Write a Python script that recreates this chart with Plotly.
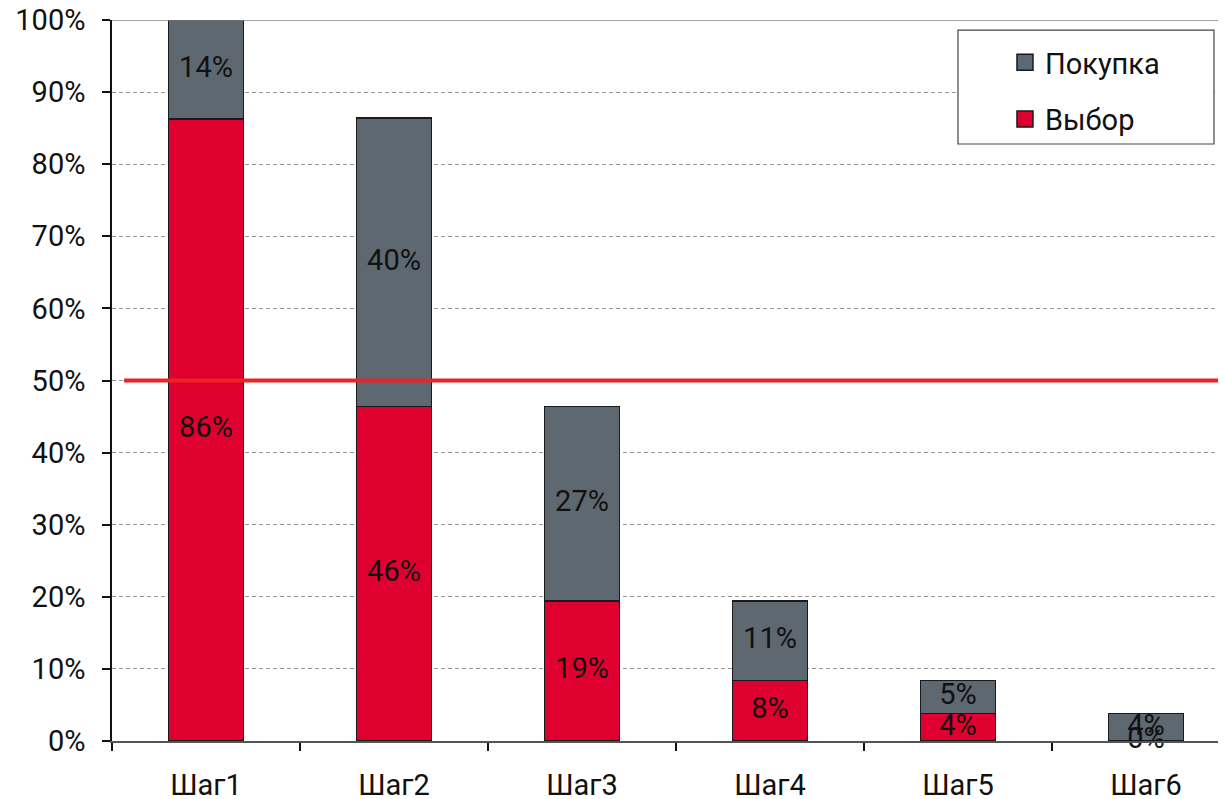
import plotly.graph_objects as go

categories = ["Шаг1", "Шаг2", "Шаг3", "Шаг4", "Шаг5", "Шаг6"]
vybor = [86.3, 46.4, 19.4, 8.4, 3.8, 0.0]
pokupka = [13.7, 40.0, 27.0, 11.0, 4.6, 3.8]
threshold = 50
y_ticks = [0, 10, 20, 30, 40, 50, 60, 70, 80, 90, 100]
y_tick_labels = [f"{t}%" for t in y_ticks]

RED = "#E00030"
GRAY = "#5E6870"
EDGE = "#1a1a1a"
FONT = "Roboto"
FS = 29

fig = go.Figure()
fig.add_trace(go.Bar(x=categories, y=vybor, name="Выбор", showlegend=False,
                     marker=dict(color=RED, line=dict(color=EDGE, width=1.5)),
                     width=0.4, hoverinfo="skip"))
fig.add_trace(go.Bar(x=categories, y=pokupka, name="Покупка", showlegend=False,
                     marker=dict(color=GRAY, line=dict(color=EDGE, width=1.5)),
                     width=0.4, hoverinfo="skip"))

# labels centered in each segment
fig.add_trace(go.Scatter(x=categories, y=[v / 2 for v in vybor],
                         text=[f"{v:.0f}%" for v in vybor], mode="text",
                         textfont=dict(family=FONT, size=FS, color="#111"),
                         showlegend=False, cliponaxis=False, hoverinfo="skip"))
fig.add_trace(go.Scatter(x=categories, y=[v + p / 2 for v, p in zip(vybor, pokupka)],
                         text=[f"{p:.0f}%" for p in pokupka], mode="text",
                         textfont=dict(family=FONT, size=FS, color="#111"),
                         showlegend=False, cliponaxis=False, hoverinfo="skip"))

# legend entries (square keys)
for name, col, rank in [("Покупка", GRAY, 1), ("Выбор", RED, 2)]:
    fig.add_trace(go.Scatter(x=[None], y=[None], mode="markers", name=name,
                             legendgroup=name, legendrank=rank,
                             marker=dict(symbol="square", size=16, color=col,
                                         line=dict(color=EDGE, width=1.5)),
                             hoverinfo="skip"))

fig.add_shape(type="line", xref="paper", yref="y", x0=0, x1=1, y0=100, y1=100,
              line=dict(color="#888888", width=1.5))
fig.add_shape(type="line", xref="paper", yref="y", x0=0.0108, x1=1, y0=threshold, y1=threshold,
              line=dict(color="#EE2224", width=4))
# legend frame
fig.add_shape(type="rect", xref="paper", yref="paper", x0=0.7594, x1=0.9892, y0=0.828, y1=0.986,
              line=dict(color="#444444", width=1.2), fillcolor="white", layer="above")

fig.update_layout(
    width=1218, height=791,
    barmode="stack",
    paper_bgcolor="white", plot_bgcolor="white",
    margin=dict(l=104, r=0, t=12, b=58, autoexpand=False),
    font=dict(family=FONT, size=FS, color="#111"),
    showlegend=True,
    legend=dict(x=0.8016, y=0.9764, xanchor="left", yanchor="top",
                bgcolor="rgba(0,0,0,0)", borderwidth=0,
                traceorder="grouped", tracegroupgap=16,
                font=dict(family=FONT, size=FS, color="#111")),
    xaxis=dict(type="category", range=[-0.5, 5.4255], tickson="boundaries",
               ticks="outside", ticklen=8, tickcolor="#111", tickwidth=1.5,
               showline=True, linecolor="#555", linewidth=1.5,
               showgrid=False, ticklabelstandoff=17, automargin=False,
               tickfont=dict(family=FONT, size=FS, color="#111")),
    yaxis=dict(range=[0, 100], tickvals=y_ticks, ticktext=y_tick_labels,
               ticks="outside", ticklen=8, tickcolor="#111", tickwidth=1.5,
               showline=True, linecolor="#111", linewidth=1.5,
               showgrid=True, gridcolor="#999999", gridwidth=1, griddash="4px,3px",
               zeroline=False, ticklabelstandoff=11, automargin=False,
               ticklabeloverflow="allow",
               tickfont=dict(family=FONT, size=FS, color="#111")),
)

fig.write_html("out.html")
